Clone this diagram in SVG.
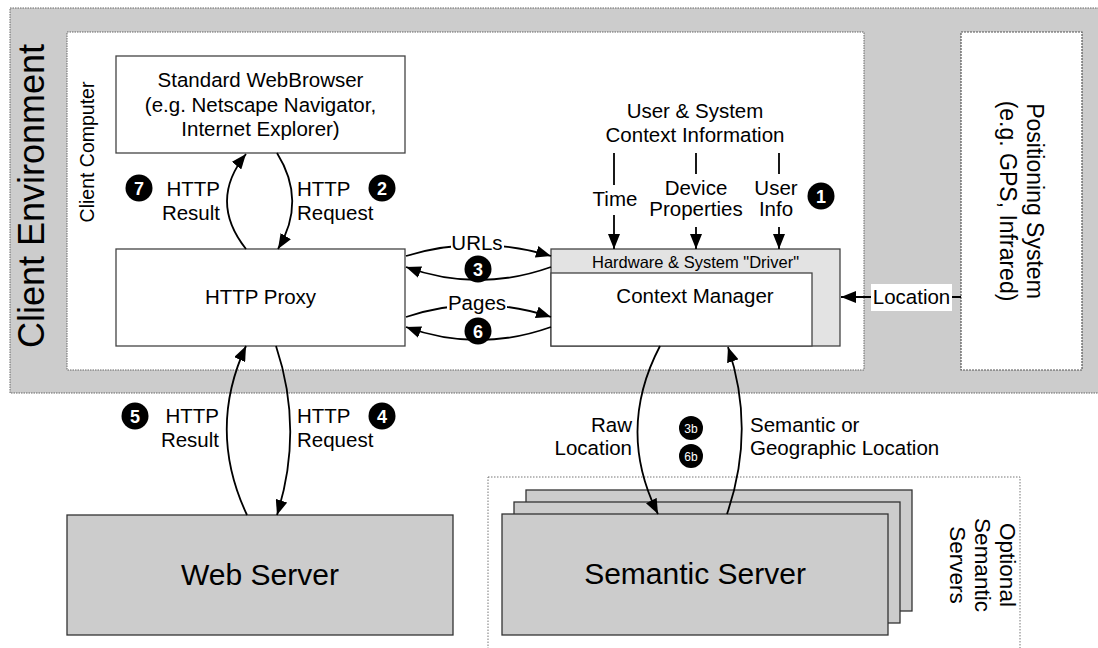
<svg xmlns="http://www.w3.org/2000/svg" width="1098" height="648" viewBox="0 0 1098 648">
<style>
text{font-family:"Liberation Sans",Arial,sans-serif;fill:#000}
.lbl{font-size:20.5px}
.mid{text-anchor:middle}
.end{text-anchor:end}
.box{fill:#fff;stroke:#444;stroke-width:1.3}
.gbox{fill:#cccccc;stroke:#333;stroke-width:1.3}
.dot{stroke:#666;stroke-width:1;stroke-dasharray:1.5,1}
.con{fill:none;stroke:#000;stroke-width:1.8}
.badge circle{fill:#000}
.badge text{fill:#fff;font-size:18px;font-weight:bold;text-anchor:middle}
.sb text{font-size:12px;font-weight:normal}
</style>
<defs>
<marker id="ah" markerWidth="15" markerHeight="12" refX="15" refY="6" orient="auto" markerUnits="userSpaceOnUse">
<path d="M0,0 L15,6 L0,12 z" fill="#000"/>
</marker>
</defs>

<g id="client-environment">
<rect x="10" y="8" width="1100" height="385" fill="#cccccc" class="dot"/>
<text class="mid" font-size="36" transform="translate(44,196) rotate(-90)">Client Environment</text>
</g>

<g id="client-computer">
<rect x="67" y="32" width="797" height="338" fill="#fff" class="dot"/>
<text class="mid" font-size="19.5" transform="translate(94,152) rotate(-90)">Client Computer</text>
</g>

<g id="positioning-system">
<rect x="961" y="32" width="121" height="338" fill="#fff" stroke="#555" stroke-width="1.2" stroke-dasharray="2,1"/>
<text class="mid" font-size="23" transform="translate(1027,201) rotate(90)"><tspan x="0" y="0">Positioning System</tspan><tspan x="0" dy="27">(e.g. GPS, Infrared)</tspan></text>
</g>

<g id="web-browser">
<rect x="116" y="56" width="289" height="97" class="box"/>
<text class="lbl mid" x="260.5" y="87">Standard WebBrowser</text>
<text class="lbl mid" x="260.5" y="112">(e.g. Netscape Navigator,</text>
<text class="lbl mid" x="260.5" y="136">Internet Explorer)</text>
</g>

<g id="http-proxy">
<rect x="116" y="249" width="289" height="97" class="box"/>
<text class="lbl mid" x="260.5" y="304">HTTP Proxy</text>
</g>

<g id="context-manager">
<rect x="551" y="249" width="289" height="97" fill="#e3e3e3" stroke="#444" stroke-width="1.3"/>
<rect x="551" y="273" width="261" height="73" class="box"/>
<text class="mid" font-size="16.5" x="695.5" y="268">Hardware &amp; System "Driver"</text>
<text class="lbl mid" x="695" y="303">Context Manager</text>
</g>

<g id="context-info">
<text class="lbl mid" x="695" y="118">User &amp; System</text>
<text class="lbl mid" x="695" y="142">Context Information</text>
<text class="lbl mid" x="615" y="206">Time</text>
<text class="lbl mid" x="696" y="195">Device</text>
<text class="lbl mid" x="696" y="216">Properties</text>
<text class="lbl mid" x="776" y="195">User</text>
<text class="lbl mid" x="776" y="216">Info</text>
</g>

<g id="web-server">
<rect x="67" y="515" width="386" height="120" class="gbox"/>
<text class="mid" font-size="30" x="260" y="585">Web Server</text>
</g>

<g id="semantic-servers">
<rect x="488" y="477" width="532" height="190" fill="none" stroke="#777" stroke-width="1" stroke-dasharray="1.5,1.5"/>
<rect x="526" y="490" width="386" height="121" class="gbox"/>
<rect x="514" y="502" width="386" height="121" class="gbox"/>
<rect x="502" y="514" width="386" height="121" class="gbox"/>
<text class="mid" font-size="30" x="695" y="584">Semantic Server</text>
<text class="mid" font-size="22.5" transform="translate(1000,565) rotate(90)"><tspan x="0" y="0">Optional</tspan><tspan x="0" dy="25">Semantic</tspan><tspan x="0" dy="25">Servers</tspan></text>
</g>

<g id="connectors">
<path class="con" d="M246,249 Q208,201 246,154" marker-end="url(#ah)"/>
<path class="con" d="M277,153 Q307,201 278,249" marker-end="url(#ah)"/>
<path class="con" d="M247,515 Q207,430 246,346" marker-end="url(#ah)"/>
<path class="con" d="M276,346 Q304,430 277,515" marker-end="url(#ah)"/>
<path class="con" d="M406,256 Q478,234 551,256" marker-end="url(#ah)"/>
<path class="con" d="M551,267 Q478,293 406,267" marker-end="url(#ah)"/>
<path class="con" d="M406,317 Q478,293 551,317" marker-end="url(#ah)"/>
<path class="con" d="M551,327 Q478,353 406,327" marker-end="url(#ah)"/>
<path class="con" d="M660,346 Q616,430 658,514" marker-end="url(#ah)"/>
<path class="con" d="M727,514 Q756,430 728,347" marker-end="url(#ah)"/>
<line class="con" x1="614" y1="153" x2="614" y2="185"/>
<line class="con" x1="696" y1="153" x2="696" y2="174"/>
<line class="con" x1="779" y1="153" x2="779" y2="174"/>
<line class="con" x1="614" y1="215" x2="614" y2="249" marker-end="url(#ah)"/>
<line class="con" x1="696" y1="227" x2="696" y2="249" marker-end="url(#ah)"/>
<line class="con" x1="779" y1="227" x2="779" y2="249" marker-end="url(#ah)"/>
<line class="con" x1="961" y1="297" x2="841" y2="297" marker-end="url(#ah)"/>
<rect x="871" y="284" width="81" height="27" fill="#fff"/>
<text class="lbl mid" x="911.5" y="304">Location</text>
<rect x="451" y="234" width="53" height="20" fill="#fff"/>
<text class="lbl mid" x="477" y="250">URLs</text>
<rect x="447" y="294" width="60" height="20" fill="#fff"/>
<text class="lbl mid" x="477" y="310">Pages</text>
<text class="lbl end" x="220" y="196">HTTP</text>
<text class="lbl end" x="220" y="220">Result</text>
<text class="lbl" x="297" y="196">HTTP</text>
<text class="lbl" x="297" y="220">Request</text>
<text class="lbl end" x="219" y="423">HTTP</text>
<text class="lbl end" x="219" y="447">Result</text>
<text class="lbl" x="297" y="423">HTTP</text>
<text class="lbl" x="297" y="447">Request</text>
<text class="lbl end" x="632" y="432">Raw</text>
<text class="lbl end" x="632" y="455">Location</text>
<text class="lbl" x="750" y="432">Semantic or</text>
<text class="lbl" x="750" y="455">Geographic Location</text>
</g>

<g id="badges" class="badge">
<g id="b1"><circle cx="821" cy="196" r="13.5"/><text x="821" y="202.5">1</text></g>
<g id="b2"><circle cx="382" cy="188" r="13.5"/><text x="382" y="194.5">2</text></g>
<g id="b7"><circle cx="139" cy="188" r="13.5"/><text x="139" y="194.5">7</text></g>
<g id="b3"><circle cx="478" cy="269" r="13.5"/><text x="478" y="275.5">3</text></g>
<g id="b6"><circle cx="478" cy="331" r="13.5"/><text x="478" y="337.5">6</text></g>
<g id="b5"><circle cx="135" cy="416" r="13.5"/><text x="135" y="422.5">5</text></g>
<g id="b4"><circle cx="382" cy="416" r="13.5"/><text x="382" y="422.5">4</text></g>
<g id="b3b" class="sb"><circle cx="691" cy="428" r="12"/><text x="691" y="432.5">3b</text></g>
<g id="b6b" class="sb"><circle cx="691" cy="456" r="12"/><text x="691" y="460.5">6b</text></g>
</g>
</svg>
